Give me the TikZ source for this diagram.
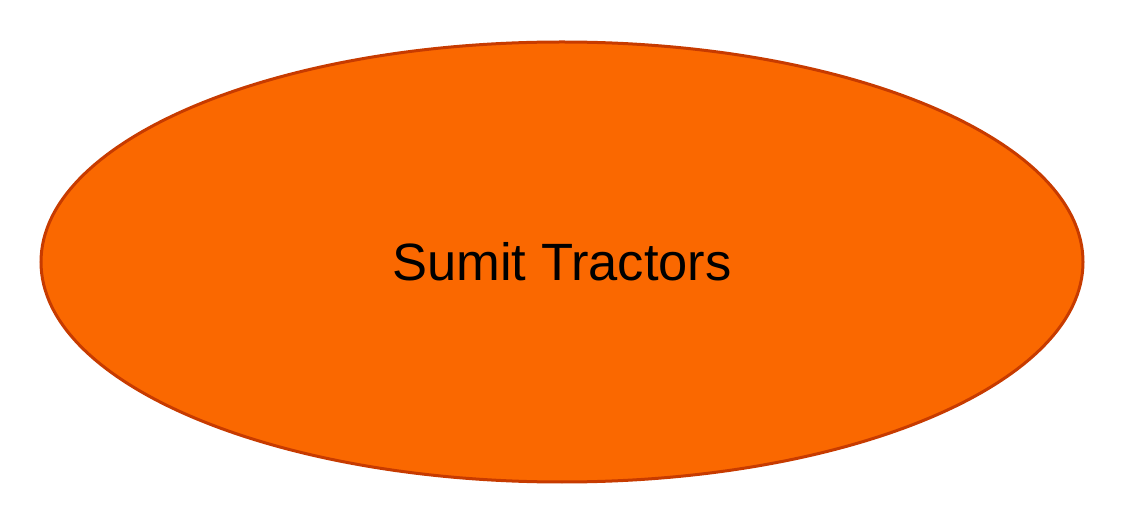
\documentclass[tikz,border=0pt]{standalone}
\usepackage{fontspec}
\setmainfont{Liberation Sans}
\usepackage{xcolor}
\usetikzlibrary{shapes.geometric, positioning}

\definecolor{tractorfill}{HTML}{FA6800}
\definecolor{tractordraw}{HTML}{C73B00}

\begin{document}
\begin{tikzpicture}[x=1pt, y=1pt]
    % Tyylit
    \tikzstyle{company} = [ellipse, minimum width=1042pt, minimum height=440pt, inner sep=0pt, text centered, draw=tractordraw, line width=3pt, fill=tractorfill, font=\fontsize{52.5}{60}\selectfont]

    \useasboundingbox (0,0) rectangle (1128,528);

    % Solmut
    \node (sumit) [company] at (562,266) {Sumit Tractors};
\end{tikzpicture}
\end{document}
